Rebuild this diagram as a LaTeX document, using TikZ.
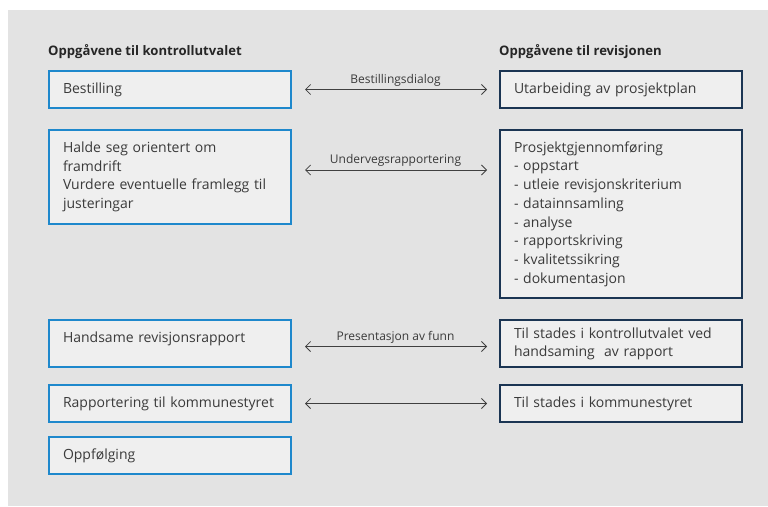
\documentclass[tikz,border=0pt]{standalone}
\usepackage{fontspec}
\setmainfont{Open Sans}
\definecolor{bg}{HTML}{E3E3E3}
\definecolor{boxfill}{HTML}{EFEFEF}
\definecolor{kblue}{HTML}{1E88CC}
\definecolor{rnavy}{HTML}{1B3553}
\definecolor{txt}{HTML}{3A3A3A}
\tikzset{
  box/.style={draw, line width=2pt, fill=boxfill, text=txt, anchor=north west,
    text width=214pt, inner xsep=14pt, inner ysep=0pt, align=left,
    font=\fontsize{14}{18.7}\selectfont},
  kbox/.style={box, draw=kblue},
  rbox/.style={box, draw=rnavy},
  hd/.style={anchor=base west, inner sep=0pt, font=\fontsize{13.1}{15}\selectfont\bfseries, text=black!85},
  link/.style={<->, >={Straight Barb[length=5pt,width=10pt]}, draw=black!75, line width=0.8pt},
  lbl/.style={above, midway, text=txt, font=\fontsize{12}{14}\selectfont, inner sep=3pt}
}
\usetikzlibrary{arrows.meta}
\begin{document}
\begin{tikzpicture}[x=1pt, y=-1pt]
  \useasboundingbox (0,0) rectangle (768,506);
  \fill[bg] (8,10) rectangle (768,506);

  \node[hd] (HK) at (48,55.5) {Oppgåvene til kontrollutvalet};
  \node[hd] (HR) at (499,55.5) {Oppgåvene til revisjonen};

  % kontrollutvalet
  \node[kbox, minimum height=37pt] (K1) at (48,70) {Bestilling};
  \node[kbox, minimum height=94pt] (K2) at (48,129) {Halde seg orientert om\\framdrift\\Vurdere eventuelle framlegg til\\justeringar};
  \node[kbox, minimum height=47pt, text depth=12pt] (K3) at (48,319) {Handsame revisjonsrapport};
  \node[kbox, minimum height=37pt] (K4) at (48,384) {Rapportering~til~kommunestyret};
  \node[kbox, minimum height=37pt] (K5) at (48,436) {Oppfølging};

  % revisjonen
  \node[rbox, minimum height=37pt] (R1) at (499,70) {Utarbeiding av prosjektplan};
  \node[rbox, minimum height=168pt] (R2) at (499,129) {Prosjektgjennomføring\\- oppstart\\- utleie revisjonskriterium\\- datainnsamling\\- analyse\\- rapportskriving\\- kvalitetssikring\\- dokumentasjon};
  \node[rbox, minimum height=47pt, font=\fontsize{14}{18}\selectfont] (R3) at (499,319) {Til~stades~i~kontrollutvalet~ved\\handsaming~~av rapport};
  \node[rbox, minimum height=37pt] (R4) at (499,384) {Til stades i kommunestyret};

  \draw[link, shorten <=13pt, shorten >=12pt] (K1.east) -- (K1.east -| R1.west) node[lbl] {Bestillingsdialog};
  \draw[link, shorten <=13pt, shorten >=12pt] ([yshift=7pt]K2.east) -- ([yshift=7pt]K2.east -| R2.west) node[lbl] {Undervegsrapportering};
  \draw[link, shorten <=13pt, shorten >=12pt] ([yshift=-3pt]K3.east) -- ([yshift=-3pt]K3.east -| R3.west) node[lbl] {Presentasjon av funn};
  \draw[link, shorten <=13pt, shorten >=12pt] (K4.east) -- (K4.east -| R4.west);

\end{tikzpicture}
\end{document}
